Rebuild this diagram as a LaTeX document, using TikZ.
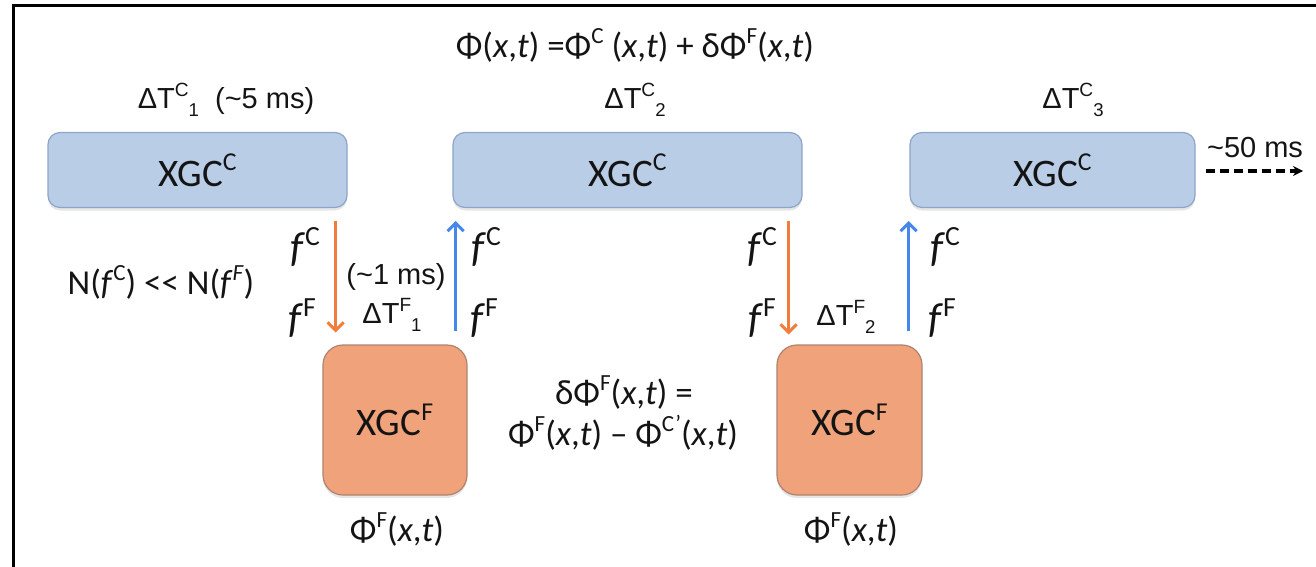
\documentclass[tikz,border=0pt]{standalone}
\usepackage{fontspec}
\setmainfont{Carlito}
\newfontfamily\arialfont{Liberation Sans}
\usetikzlibrary{arrows.meta,shadows}
\definecolor{bfill}{RGB}{185,205,230}
\definecolor{bline}{RGB}{140,165,200}
\definecolor{ofill}{RGB}{240,163,122}
\definecolor{oline}{RGB}{175,130,110}
\definecolor{oarr}{RGB}{240,125,60}
\definecolor{barr}{RGB}{70,135,235}
\definecolor{txt}{RGB}{20,20,20}
\newcommand{\mysup}[1]{\raisebox{0.4em}{\scalebox{0.66}{#1}}}
\newcommand{\mysub}[1]{\raisebox{-0.28em}{\scalebox{0.64}{#1}}}
\newcommand{\xt}{(\textit{x},\textit{t})}
\begin{document}
\begin{tikzpicture}[x=0.5pt,y=-0.5pt,
  every node/.style={text=txt, inner sep=0pt},
  bbox/.style={draw=bline, fill=bfill, line width=0.6pt, rounded corners=6pt,
    minimum height=37.5pt, font=\fontsize{19.5}{23}\selectfont,
    drop shadow={shadow xshift=0pt, shadow yshift=-1.5pt, opacity=0.2}},
  obox/.style={draw=oline, fill=ofill, line width=0.6pt, rounded corners=10pt,
    minimum height=75pt, minimum width=72pt, font=\fontsize{19.5}{23}\selectfont,
    drop shadow={shadow xshift=0pt, shadow yshift=-1.5pt, opacity=0.2}},
  atext/.style={font=\arialfont\fontsize{14.5}{17}\selectfont},
  ctext/.style={font=\fontsize{17.5}{21}\selectfont},
  flab/.style={font=\fontsize{21}{24}\selectfont},
  oarrow/.style={draw=oarr, line width=1.5pt, -{Straight Barb[length=4pt,width=8pt]}},
  barrow/.style={draw=barr, line width=1.5pt, -{Straight Barb[length=4pt,width=8pt]}},
]
\useasboundingbox (0,0) rectangle (1316,567);
\draw[line width=1.5pt, line cap=rect] (13,567) -- (13,6) -- (1316,6);

% boxes
\node[bbox, minimum width=149.5pt] (b1) at (197.5,170) {XGC\mysup{C}};
\node[bbox, minimum width=174.5pt] (b2) at (627.5,170) {XGC\mysup{C}};
\node[bbox, minimum width=142.5pt] (b3) at (1052.5,170) {XGC\mysup{C}};
\node[obox] (o1) at (395,420) {XGC\mysup{F}};
\node[obox, minimum width=72.5pt] (o2) at (849.5,420) {XGC\mysup{F}};

% top labels
\node[ctext] (phi) at (635,45) {Φ\xt{} =Φ\mysup{C} \xt{} + δΦ\mysup{F}\xt};
\node[atext] (t1) at (226,100) {ΔT\mysup{C}\mysub{1}\ \ (\textasciitilde5 ms)};
\node[atext] (t2) at (635,100) {ΔT\mysup{C}\mysub{2}};
\node[atext] (t3) at (1073,100) {ΔT\mysup{C}\mysub{3}};
\node[atext] (t50) at (1255,148) {\textasciitilde50 ms};
\coordinate (dend) at (1303,171);
\draw[line width=1.6pt, dash pattern=on 4.5pt off 2.5pt, -{Stealth[length=5pt,width=5pt]}, shorten <=5pt] (b3.east) ++(0,1) -- (dend);

% arrows
\draw[oarrow, shorten <=6.5pt, shorten >=6pt] ([xshift=-6pt]b1.south east) -- ([xshift=-6pt]b1.south east |- o1.north);
\draw[barrow, shorten <=6.5pt, shorten >=6.5pt] ([xshift=-6pt]o1.north east) -- ([xshift=-6pt]o1.north east |- b2.south);
\draw[oarrow, shorten <=6.5pt, shorten >=5pt] ([xshift=-7pt]b2.south east) -- ([xshift=-7pt]b2.south east |- o2.north);
\draw[barrow, shorten <=6.5pt, shorten >=6.5pt] ([xshift=-7pt]o2.north east) -- ([xshift=-7pt]o2.north east |- b3.south);

% arrow labels
\node[flab] (fc1) at (305,247) {\textit{f}\mysup{C}};
\node[flab] (ff1) at (302,318) {\textit{f}\mysup{F}};
\node[atext] (ms1) at (396,277) {(\textasciitilde1 ms)};
\node[atext] (tf1) at (392,315) {ΔT\mysup{F}\mysub{1}};
\node[flab] (fc2) at (486,247) {\textit{f}\mysup{C}};
\node[flab] (ff2) at (484,318) {\textit{f}\mysup{F}};
\node[ctext] (nn) at (161,282) {N(\textit{f}\mysup{C}) <{}< N(\textit{f}\mysup{\textit{F}})};
\node[flab] (fc3) at (762,247) {\textit{f}\mysup{C}};
\node[flab] (ff3) at (762,318) {\textit{f}\mysup{F}};
\node[atext] (tf2) at (846,317) {ΔT\mysup{F}\mysub{2}};
\node[flab] (fc4) at (945,247) {\textit{f}\mysup{C}};
\node[flab] (ff4) at (942,318) {\textit{f}\mysup{F}};

% delta phi
\node[ctext] (dp1) at (624,393) {δΦ\mysup{F}\xt{} =};
\node[ctext] (dp2) at (623,433) {Φ\mysup{F}\xt{} – Φ\mysup{C’}\xt};
\node[ctext] (pf1) at (397,530) {Φ\mysup{F}\xt};
\node[ctext] (pf2) at (851,530) {Φ\mysup{F}\xt};
\end{tikzpicture}
\end{document}
